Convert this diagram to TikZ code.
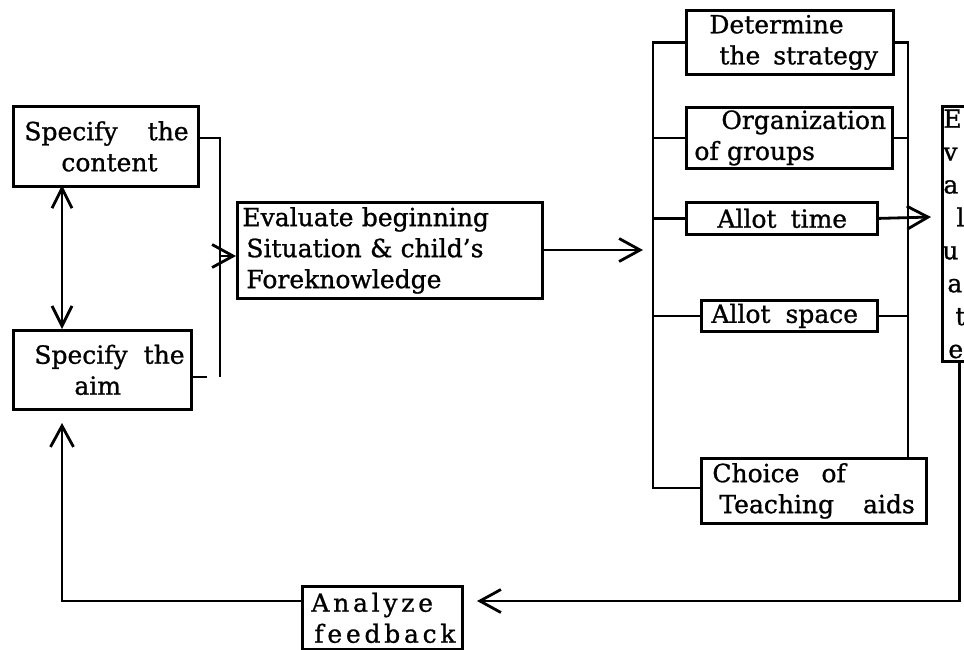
\documentclass[tikz,border=0pt]{standalone}
\usepackage{fontspec}
\setmainfont[FakeBold=1]{DejaVu Serif}
\usetikzlibrary{arrows.meta}
\begin{document}
\begin{tikzpicture}[x=1pt,y=-1pt,
  every node/.style={font=\fontsize{25}{31}\selectfont},
  box/.style={draw, line width=2.8pt, inner sep=0pt, align=left, anchor=north west},
  ln/.style={line width=2.8pt},
  arr/.style={line width=2.8pt, -{Straight Barb[length=21pt,width=23pt,line width=2.8pt]}},
  arrr/.style={line width=2.8pt, {Straight Barb[length=20pt,width=20pt,line width=2.8pt]}-{Straight Barb[length=20pt,width=20pt,line width=2.8pt]}}]
\useasboundingbox (0,0) rectangle (964,649);
% boxes
\node[box, text width=185pt, minimum height=80pt] (content) at (12,105)
  {\hspace{11pt}Specify\hspace{30pt}the\\\hspace{48pt}content};
\node[box, text width=178pt, minimum height=79pt] (aim) at (12,329)
  {\hspace{21pt}Specify\hspace{16pt}the\\\hspace{61pt}aim};
\node[box, text width=305pt, minimum height=96pt] (evalb) at (236,201)
  {\hspace{5pt}Evaluate beginning\\\hspace{9pt}Situation \& child’s\\\hspace{9pt}Foreknowledge};
\node[box, text width=207pt, minimum height=64pt] (det) at (685,9)
  {\hspace{23pt}Determine\\\hspace{33pt}the\hspace{13pt}strategy};
\node[box, text width=206pt, minimum height=61pt] (org) at (685,106)
  {\hspace{35pt}Organization\\\hspace{8pt}of groups};
\node[box, text width=191pt, minimum height=32pt] (time) at (685,201)
  {\hspace{31pt}Allot\hspace{14pt}time};
\node[box, text width=176pt, minimum height=31pt] (space) at (700,299)
  {\hspace{10pt}Allot\hspace{15pt}space};
\node[box, text width=225pt, minimum height=65pt] (choice) at (700,457)
  {\hspace{11pt}Choice\hspace{22pt}of\\\hspace{18pt}Teaching\hspace{29pt}aids};
\node[box, text width=34pt, minimum height=255pt, font=\fontsize{25}{32.9}\selectfont] (evalr) at (941,105)
  {\hspace{1pt}E\\\hspace{1pt}v\\\hspace{1pt}a\\\hspace{14pt}l\\\hspace{0pt}u\\\hspace{5pt}a\\\hspace{13pt}t\\\hspace{6pt}e};
\node[box, text width=160pt, minimum height=63pt] (analyze) at (301,585)
  {\addfontfeatures{LetterSpace=15}\hspace{9pt}Analyze\\\hspace{12pt}feedback};
% coordinates
\coordinate (bT) at (220,138);
\coordinate (bB) at (220,377);
\coordinate (bA) at (207,377);
\coordinate (lb) at (653,0);
\coordinate (rb) at (908,0);
\coordinate (tt) at (931,217);
\coordinate (fb) at (477,601);
\coordinate (up) at (62,423);
\coordinate (lbB) at (653,488);
% left group
\draw[arrr] (62,185) -- (62,329);
\draw[ln] (content.east |- bT) -- (bT) -- (bB);
\draw[ln] (aim.east |- bA) -- (bA);
\draw[arr] (220,256) -- (evalb.west |- 0,256);
\draw[arr] (evalb.east |- 0,250) -- (643,250);
% left bus
\draw[ln] (det.west) -- (det.west -| lb) -- (lbB) -- (choice.west |- lbB);
\draw[ln] (org.west) -- (org.west -| lb);
\draw[ln] (time.west) -- (time.west -| lb);
\draw[ln] (space.west) -- (space.west -| lb);
% right bus
\draw[ln] (det.east) -- (det.east -| rb) -- (choice.north -| rb);
\draw[ln] (org.east) -- (org.east -| rb);
\draw[ln] (space.east) -- (space.east -| rb);
\draw[arr] (time.east) -- (tt);
% feedback loop
\draw[arr] (evalr.south) |- (fb);
\draw[arr] (analyze.west |- fb) -| (up);
\end{tikzpicture}
\end{document}
